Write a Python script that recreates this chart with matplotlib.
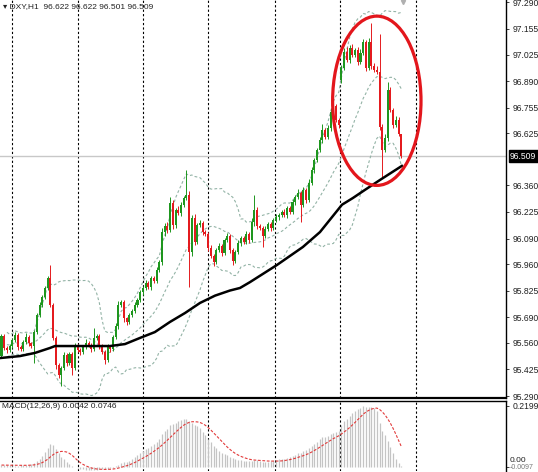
import numpy as np
import pandas as pd
import matplotlib
matplotlib.use('Agg')
import matplotlib.pyplot as plt
from matplotlib.patches import Ellipse

# ---- data (DXY H1) ----
first_open = 95.493
gap_bar, gap_open = 125, 96.896   # monday gap

closes = [95.595, 95.534, 95.524, 95.544, 95.575, 95.600, 95.539, 95.529, 95.564, 95.590,
          95.559, 95.544, 95.615, 95.702, 95.752, 95.793, 95.839, 95.890, 95.752, 95.585,
          95.448, 95.397, 95.432, 95.498, 95.458, 95.503, 95.432, 95.544, 95.524, 95.514,
          95.539, 95.559, 95.549, 95.529, 95.585, 95.595, 95.544, 95.514, 95.473, 95.539,
          95.529, 95.590, 95.646, 95.752, 95.768, 95.686, 95.666, 95.702, 95.722, 95.752,
          95.778, 95.819, 95.839, 95.864, 95.844, 95.890, 95.874, 95.930, 95.971, 96.123,
          96.154, 96.134, 96.271, 96.159, 96.235, 96.220, 96.261, 96.296, 96.311, 96.022,
          96.195, 96.073, 96.159, 96.169, 96.123, 96.113, 96.042, 96.001, 95.971, 96.032,
          96.052, 96.017, 96.083, 96.103, 96.032, 95.976, 96.022, 96.068, 96.093, 96.073,
          96.113, 96.083, 96.174, 96.235, 96.154, 96.144, 96.103, 96.139, 96.164, 96.144,
          96.184, 96.200, 96.210, 96.225, 96.210, 96.245, 96.225, 96.276, 96.301, 96.322,
          96.261, 96.337, 96.286, 96.372, 96.439, 96.489, 96.540, 96.591, 96.642, 96.606,
          96.652, 96.733, 96.764, 96.693, 96.667, 96.957, 97.038, 96.998, 97.059, 97.023,
          97.048, 96.987, 97.033, 97.089, 96.957, 97.089, 96.967, 96.947, 96.937, 96.657,
          96.540, 96.601, 96.845, 96.743, 96.667, 96.693, 96.622, 96.509]

up_wick = [0.01, 0.01, 0.008, 0.012, 0.01, 0.015, 0.01, 0.008, 0.012, 0.02,
           0.01, 0.008, 0.012, 0.01, 0.015, 0.01, 0.012, 0.01, 0.066, 0.012,
           0.01, 0.008, 0.012, 0.015, 0.01, 0.012, 0.01, 0.015, 0.01, 0.008,
           0.012, 0.02, 0.01, 0.008, 0.05, 0.012, 0.01, 0.008, 0.01, 0.015,
           0.012, 0.01, 0.015, 0.02, 0.012, 0.01, 0.008, 0.012, 0.01, 0.015,
           0.01, 0.012, 0.01, 0.015, 0.01, 0.012, 0.01, 0.015, 0.012, 0.02,
           0.015, 0.02, 0.03, 0.015, 0.012, 0.02, 0.015, 0.012, 0.128, 0.02,
           0.015, 0.02, 0.012, 0.015, 0.01, 0.012, 0.01, 0.015, 0.01, 0.012,
           0.015, 0.01, 0.012, 0.015, 0.01, 0.012, 0.01, 0.015, 0.012, 0.01,
           0.015, 0.01, 0.02, 0.076, 0.015, 0.01, 0.012, 0.015, 0.01, 0.012,
           0.01, 0.015, 0.012, 0.01, 0.015, 0.01, 0.012, 0.015, 0.01, 0.02,
           0.012, 0.015, 0.01, 0.02, 0.015, 0.012, 0.01, 0.015, 0.03, 0.012,
           0.015, 0.02, 0.015, 0.012, 0.01, 0.015, 0.02, 0.026, 0.015, 0.02,
           0.012, 0.015, 0.02, 0.015, 0.012, 0.02, 0.097, 0.015, 0.02, 0.19,
           0.015, 0.02, 0.04, 0.015, 0.012, 0.02, 0.015, 0.0]

lo_wick = [0.012, 0.01, 0.015, 0.01, 0.012, 0.01, 0.015, 0.01, 0.012, 0.01,
           0.015, 0.012, 0.086, 0.01, 0.012, 0.01, 0.008, 0.01, 0.012, 0.01,
           0.02, 0.015, 0.056, 0.012, 0.015, 0.01, 0.035, 0.012, 0.01, 0.015,
           0.01, 0.012, 0.01, 0.015, 0.012, 0.01, 0.015, 0.012, 0.02, 0.01,
           0.015, 0.012, 0.01, 0.015, 0.012, 0.02, 0.015, 0.01, 0.012, 0.01,
           0.012, 0.01, 0.015, 0.01, 0.012, 0.015, 0.01, 0.012, 0.01, 0.015,
           0.02, 0.015, 0.012, 0.02, 0.015, 0.012, 0.015, 0.01, 0.012, 0.178,
           0.02, 0.015, 0.012, 0.01, 0.015, 0.012, 0.015, 0.01, 0.02, 0.012,
           0.01, 0.015, 0.012, 0.01, 0.015, 0.02, 0.012, 0.01, 0.015, 0.012,
           0.01, 0.015, 0.012, 0.02, 0.015, 0.012, 0.056, 0.01, 0.012, 0.015,
           0.012, 0.01, 0.015, 0.012, 0.01, 0.015, 0.012, 0.01, 0.015, 0.012,
           0.087, 0.012, 0.015, 0.01, 0.012, 0.015, 0.01, 0.012, 0.015, 0.01,
           0.012, 0.015, 0.01, 0.012, 0.015, 0.015, 0.012, 0.01, 0.015, 0.012,
           0.01, 0.015, 0.012, 0.01, 0.015, 0.012, 0.015, 0.01, 0.012, 0.015,
           0.137, 0.012, 0.015, 0.01, 0.015, 0.012, 0.01, 0.008]

# MACD main line (drawn as histogram), one value per bar
macd_main = [0.008, 0.008, 0.007, 0.007, 0.006, 0.006, 0.006, 0.007, 0.008, 0.009,
             0.01, 0.011, 0.015, 0.022, 0.03, 0.04, 0.055, 0.07, 0.085, 0.08,
             0.065, 0.05, 0.038, 0.028, 0.02, 0.012, 0.006, 0.002, -0.002, -0.005,
             -0.006, -0.008, -0.009, -0.0097, -0.009, -0.008, -0.006, -0.006, -0.007, -0.005,
             -0.004, -0.002, 0.003, 0.01, 0.016, 0.018, 0.02, 0.024, 0.03, 0.036,
             0.043, 0.05, 0.057, 0.064, 0.07, 0.078, 0.084, 0.092, 0.102, 0.118,
             0.13, 0.138, 0.15, 0.155, 0.16, 0.165, 0.17, 0.173, 0.172, 0.165,
             0.16, 0.152, 0.148, 0.14, 0.128, 0.115, 0.103, 0.09, 0.076, 0.068,
             0.06, 0.052, 0.047, 0.043, 0.038, 0.032, 0.029, 0.027, 0.026, 0.024,
             0.023, 0.022, 0.024, 0.027, 0.025, 0.022, 0.02, 0.019, 0.02, 0.021,
             0.022, 0.025, 0.028, 0.03, 0.031, 0.034, 0.036, 0.04, 0.045, 0.05,
             0.052, 0.058, 0.062, 0.07, 0.077, 0.085, 0.092, 0.1, 0.107, 0.11,
             0.113, 0.118, 0.122, 0.125, 0.13, 0.15, 0.165, 0.175, 0.185, 0.195,
             0.203, 0.208, 0.214, 0.2199, 0.218, 0.218, 0.216, 0.212, 0.203, 0.16,
             0.13, 0.115, 0.095, 0.072, 0.05, 0.03, 0.015, 0.0042]

# slow moving average (black line), vertices (bar index, price)
ma_x = [-0.5, 6.8, 12.3, 17.8, 19.7, 39.9, 45.4, 50.9, 56.4, 61.9, 67.5, 73.0, 78.5,
        84.0, 87.7, 91.4, 101.3, 110.8, 117.1, 125.2, 129.2, 133.6, 139.2, 147.2]
ma_y = [95.483, 95.493, 95.509, 95.534, 95.544, 95.544, 95.554, 95.585, 95.615, 95.666,
        95.712, 95.763, 95.800, 95.826, 95.839, 95.869, 95.956, 96.047, 96.123, 96.262,
        96.296, 96.337, 96.388, 96.459]

price_ticks = [97.290, 97.155, 97.025, 96.890, 96.755, 96.625, 96.360, 96.225,
               96.090, 95.960, 95.825, 95.690, 95.560, 95.425, 95.290]
last_price = 96.509
title = "DXY,H1  96.622 96.622 96.501 96.509"
macd_top, macd_bot = 0.2199, -0.0097
grid_bars = [4, 28, 52, 76, 100.5, 124.5, 152.5]

# ---- derived ----
c = pd.Series(closes)
opens = [first_open] + closes[:-1]
opens[gap_bar] = gap_open
o = pd.Series(opens)
hi = np.maximum(o, c) + np.array(up_wick)
lo = np.minimum(o, c) - np.array(lo_wick)
idx = np.arange(len(c))

mid = c.rolling(20, min_periods=3).mean()
sd = c.rolling(20, min_periods=3).std(ddof=0)
upper = mid + 2 * sd
lower = mid - 2 * sd

macd = pd.Series(macd_main)
signal = macd.rolling(9, min_periods=1).mean()

# ---- plot ----
plt.rcParams['font.family'] = ['Liberation Sans', 'DejaVu Sans']
W, H = 538, 472
fig = plt.figure(figsize=(W / 100, H / 100), dpi=100)
fig.patch.set_facecolor('white')

ax = fig.add_axes([0, 1 - 398 / H, 506 / W, 398 / H])
ax2 = fig.add_axes([0, 1 / H, 506 / W, 70 / H])

green, red = '#1e961e', '#e41b1f'
cols = np.where(c >= o, green, red)

xl = (-0.551, 185.5)
for a in (ax, ax2):
    a.set_xlim(*xl)
    for g in grid_bars:
        a.axvline(g, color='black', lw=0.8, ls=(0, (2, 2)), zorder=0)
    a.set_xticks([])
    a.yaxis.tick_right()
    a.tick_params(axis='y', labelsize=6.2, length=2.5, width=0.6, pad=2, colors='#222222')
    for s in ('left', 'top', 'bottom', 'right'):
        a.spines[s].set_visible(False)
    a.spines['right'].set_visible(True)
    a.spines['right'].set_linewidth(1)

ax.spines['bottom'].set_visible(True)
ax.spines['bottom'].set_linewidth(1.6)
ax2.spines['top'].set_visible(True)
ax2.spines['top'].set_linewidth(1)

ax.set_ylim(95.280, 97.302)
ax.set_yticks(price_ticks)
ax.set_yticklabels(['%.3f' % t for t in price_ticks])

# current price line
ax.axhline(last_price, color='#c8c8c8', lw=1, zorder=1)

# bollinger bands
bb = dict(color='#93b3a6', lw=0.8, ls=(0, (2.5, 2)), zorder=2)
ax.plot(idx, upper, **bb)
ax.plot(idx, mid, **bb)
ax.plot(idx, lower, **bb)

# candles
ax.vlines(idx, lo, hi, colors=cols, lw=0.7, zorder=3)
body = np.maximum(np.abs(c - o), 0.004)
ax.bar(idx, body, bottom=np.minimum(o, c), width=0.75, color=cols, lw=0, zorder=4)

# moving average
ax.plot(ma_x, ma_y, color='black', lw=1.8, zorder=5)

# red circle
ax.add_patch(Ellipse((138.0, 96.79), 32.5, 0.86, fill=False, ec='#e3161c', lw=2.3, zorder=6))

# chart shift marker
ax.plot([147.5], [97.29], marker='v', ms=3, color='#b0b0b0', zorder=6)

ax.text(0.005, 0.992, '\u25be ' + title, transform=ax.transAxes, fontsize=6,
        va='top', ha='left', color='#222222')
ax.text(1.008, last_price, '%.3f' % last_price, transform=ax.get_yaxis_transform(),
        fontsize=6.2, va='center', ha='left', color='white',
        bbox=dict(boxstyle='square,pad=0.15', fc='black', ec='black'))

# MACD panel
ax2.vlines(idx, 0, macd, colors='#c4c4c4', lw=0.9, zorder=2)
ax2.plot(idx, signal, color='#e23a3a', lw=0.8, ls=(0, (2.5, 1.5)), zorder=3)
ax2.set_ylim(-0.0133, 0.2378)
ax2.set_yticks([macd_top, 0.0])
ax2.set_yticklabels(['%.4f' % macd_top, ''])
ax2.text(1.008, 0.012, '0.00', transform=ax2.get_yaxis_transform(),
         fontsize=6, va='bottom', ha='left', color='#222222')
ax2.text(1.008, 0.0, '%.4f' % macd_bot, transform=ax2.transAxes,
         fontsize=5, va='bottom', ha='left', color='#777777')
ax2.text(0.003, 0.97, 'MACD(12,26,9) %.4f %.4f' % (macd.iloc[-1], signal.iloc[-1]),
         transform=ax2.transAxes, fontsize=6, va='top', ha='left', color='#222222')

fig.savefig('out.png', dpi=100, facecolor='white')
